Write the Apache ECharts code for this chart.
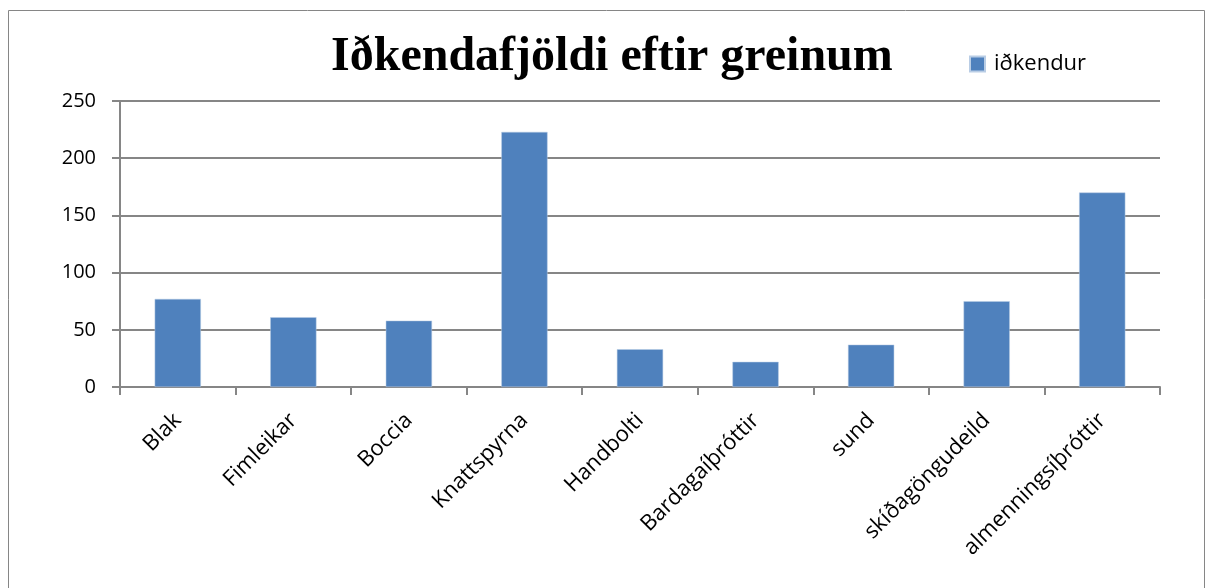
<!DOCTYPE html>
<html>
<head>
<meta charset="utf-8">
<script src="https://cdn.jsdelivr.net/npm/echarts@6/dist/echarts.min.js"></script>
<style>
html,body{margin:0;padding:0;background:#fff;}
#chart{width:1214px;height:588px;}
</style>
</head>
<body>
<div id="chart"></div>
<script>
const titleText = 'Iðkendafjöldi eftir greinum';
const seriesName = 'iðkendur';
const categories = ['Blak','Fimleikar','Boccia','Knattspyrna','Handbolti','Bardagaíþróttir','sund','skíðagöngudeild','almenningsíþróttir'];
const values = [77, 61, 58, 223, 33, 22, 37, 75, 170];
const yTicks = { min: 0, max: 250, interval: 50 };

const chart = echarts.init(document.getElementById('chart'));
chart.setOption({
  backgroundColor: '#fff',
  animation: false,
  graphic: [{
    type: 'rect',
    shape: { x: 8.5, y: 10.5, width: 1196, height: 600 },
    style: { fill: 'none', stroke: '#868686', lineWidth: 1 }
  }],
  title: {
    text: titleText,
    left: 326, top: 29,
    textStyle: { fontFamily: 'Liberation Serif', fontWeight: 'bold', fontSize: 48, color: '#000' }
  },
  legend: {
    data: [seriesName],
    left: 964, top: 48,
    itemWidth: 15, itemHeight: 15, itemGap: 8,
    icon: 'rect',
    textStyle: { fontFamily: 'Open Sans', fontSize: 22, color: '#000', padding: [0, 0, 0, 4] }
  },
  grid: { left: 120, right: 54, top: 101, bottom: 201, containLabel: false },
  xAxis: {
    type: 'category',
    data: categories,
    axisLine: { lineStyle: { color: '#868686', width: 2 } },
    axisTick: { show: true, length: 8, lineStyle: { color: '#868686', width: 2 } },
    axisLabel: { rotate: 45, margin: 30, fontFamily: 'Open Sans', fontSize: 22, color: '#000', interval: 0 }
  },
  yAxis: {
    type: 'value',
    min: yTicks.min, max: yTicks.max, interval: yTicks.interval,
    axisLine: { show: true, lineStyle: { color: '#868686', width: 2 } },
    axisTick: { show: true, length: 8, lineStyle: { color: '#868686', width: 2 } },
    splitLine: { show: true, lineStyle: { color: '#868686', width: 2 } },
    axisLabel: { margin: 24, fontFamily: 'Open Sans', fontSize: 20, color: '#000' }
  },
  series: [{
    name: seriesName,
    type: 'bar',
    data: values,
    barWidth: '40%',
    itemStyle: { color: '#4F81BD', borderColor: '#B9CDE5', borderWidth: 0.5 }
  }]
});
</script>
</body>
</html>
